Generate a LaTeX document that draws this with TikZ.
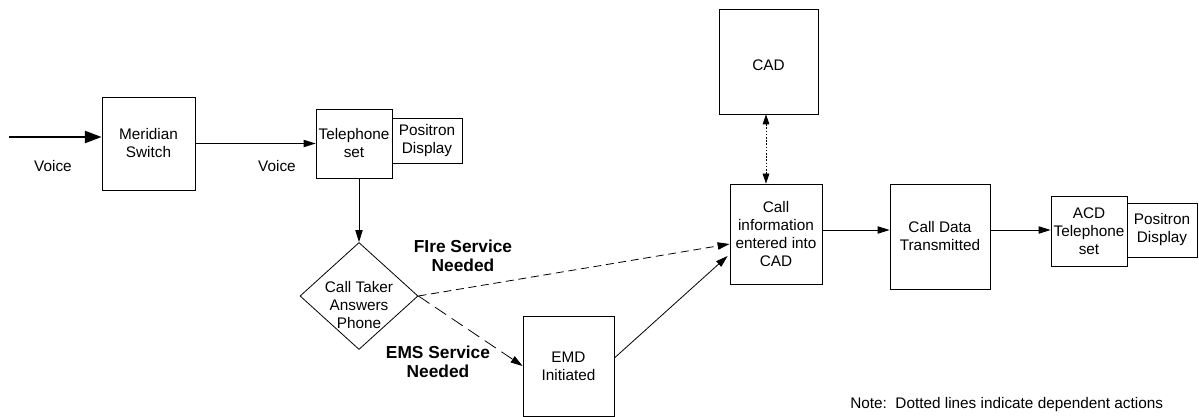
\documentclass[tikz,border=0pt]{standalone}
\usepackage{fontspec}
\setmainfont{Liberation Sans}
\usetikzlibrary{arrows.meta,shapes.geometric,calc}
\newcommand{\fsnorm}{\fontsize{11.5pt}{13.5pt}\selectfont}
\newcommand{\fsbold}{\fontsize{13pt}{14.5pt}\selectfont\bfseries}
\begin{document}
\begin{tikzpicture}[x=0.75pt,y=-0.75pt,
  box/.style={draw,line width=0.6pt,inner sep=0pt,align=center,font=\fsnorm,
    execute at begin node={\rule{0pt}{13.6pt}}},
  txt/.style={inner sep=0pt,align=center,font=\fsnorm},
  btxt/.style={inner sep=0pt,align=center,font=\fsbold},
  arr/.style={line width=0.6pt,-{Triangle[length=9pt,width=5.5pt]}},
  thickarr/.style={line width=1.6pt,-{Triangle[length=12.5pt,width=9pt]}},
  dotarr/.style={line width=0.6pt,dash pattern=on 1.2pt off 1.2pt,{Triangle[length=7.5pt,width=5pt]}-{Triangle[length=7.5pt,width=5pt]}},
  firedash/.style={dash pattern=on 6pt off 3.5pt},
  emsdash/.style={dash pattern=on 10pt off 5pt}]
\useasboundingbox (0,0) rectangle (1199,417);

% nodes
\node[box,minimum width=93*0.75pt,minimum height=93*0.75pt] (ms) at (148.5,143.5) {Meridian\\Switch};
\node[box,minimum width=76*0.75pt,minimum height=69*0.75pt] (tel) at (354,143.5) {Telephone\\set};
\node[box,minimum width=70*0.75pt,minimum height=45*0.75pt] (pd1) at (427,140.5) {Positron\\Display};
\node[draw,line width=0.6pt,diamond,inner sep=0pt,minimum width=118*0.75pt,minimum height=107*0.75pt] (ct) at (359,296) {};
\node[txt] (ctt) at (359,305) {Call Taker\\Answers\\Phone};
\node[box,minimum width=91*0.75pt,minimum height=100*0.75pt] (emd) at (568.5,366) {EMD\\Initiated};
\node[box,minimum width=99*0.75pt,minimum height=105*0.75pt] (cad) at (768.5,61.5) {CAD};
\node[box,minimum width=92*0.75pt,minimum height=100*0.75pt] (ci) at (776,234) {Call\\information\\entered into\\CAD};
\node[box,minimum width=100*0.75pt,minimum height=105*0.75pt] (cdt) at (940,236.5) {Call Data\\Transmitted};
\node[box,minimum width=76*0.75pt,minimum height=70*0.75pt] (acd) at (1089,231) {ACD\\Telephone\\set};
\node[box,minimum width=70*0.75pt,minimum height=54*0.75pt] (pd2) at (1162,230) {Positron\\Display};

% labels
\node[txt] (v1) at (53,166) {Voice};
\node[txt] (v2) at (277,166) {Voice};
\node[btxt] (fire) at (463,256) {FIre Service\\Needed};
\node[btxt] (ems) at (438,362) {EMS Service\\Needed};
\node[txt,anchor=west] (note) at (850,405) {Note:\ \ Dotted lines indicate dependent actions};

% connectors
\coordinate (vin) at (9,137);
\draw[thickarr] (vin) -- (vin -| ms.west);
\draw[arr] (ms.east) -- (ms.east -| tel.west);
\draw[arr] (tel.south -| ct.north) -- (ct.north);
\draw[arr,firedash] (ct.east) -- ($(ci.west)+(0,10)$);
\draw[arr,emsdash] (ct.east) -- (emd.west);
\draw[arr] ($(emd.east)+(0,-8)$) -- ($(ci.west)+(-2,22)$);
\coordinate (dtop) at ($(cad.south)+(-2.5,0)$);
\draw[dotarr] (dtop) -- (dtop |- ci.north);
\coordinate (c1) at ($(ci.east)+(0,-4)$);
\draw[arr] (c1) -- (c1 -| cdt.west);
\coordinate (c2) at ($(cdt.east)+(0,-6.5)$);
\draw[arr] (c2) -- (c2 -| acd.west);
\end{tikzpicture}
\end{document}
